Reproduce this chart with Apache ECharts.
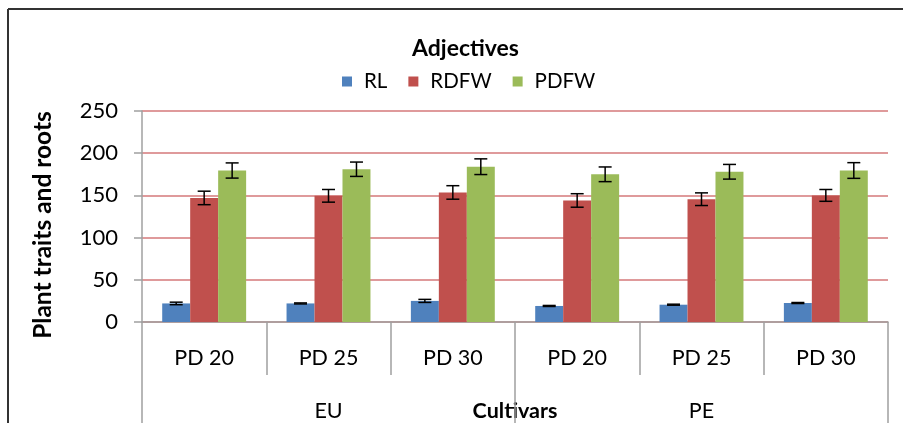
<!DOCTYPE html>
<html>
<head>
<meta charset="utf-8">
<script src="https://cdn.jsdelivr.net/npm/echarts@6/dist/echarts.min.js"></script>
<style>
html,body{margin:0;padding:0;background:#fff;}
#c{width:903px;height:423px;}
</style>
</head>
<body>
<div id="c"></div>
<script>
const categories = ['PD 20', 'PD 25', 'PD 30', 'PD 20', 'PD 25', 'PD 30'];
const groups = ['EU', 'PE'];
const seriesNames = ['RL', 'RDFW', 'PDFW'];
const RL = [22, 22, 25, 19, 20.5, 22.5];
const RL_err = [1.5, 0.6, 1.8, 0.6, 0.6, 0.6];
const RDFW = [147, 149.5, 153.5, 144, 145.5, 150];
const RDFW_err = [8, 7.5, 8, 8, 7.5, 7];
const PDFW = [179.5, 181, 184, 175, 178, 179.5];
const PDFW_err = [9, 8.5, 9.3, 8.7, 8.7, 9.3];
const yTicks = [0, 50, 100, 150, 200, 250];

const colors = ['#4f81bd', '#c0504d', '#9bbb59'];
const values = [RL, RDFW, PDFW];
const errs = [RL_err, RDFW_err, PDFW_err];
const FONT = 'Lato';

const chart = echarts.init(document.getElementById('c'));

const barSeries = seriesNames.map((n, i) => ({
  name: n, type: 'bar', data: values[i],
  barGap: '0%', barCategoryGap: '32.5%',
  itemStyle: { color: colors[i] },
  xAxisIndex: 0, yAxisIndex: 0
}));

const errSeries = seriesNames.map((n, i) => ({
  type: 'custom',
  xAxisIndex: 0, yAxisIndex: 0,
  z: 5,
  silent: true,
  data: values[i].map((v, k) => [k, v, errs[i][k]]),
  renderItem: function (params, api) {
    const k = api.value(0), v = api.value(1), e = api.value(2);
    const w = api.size([1, 0])[0];
    const bw = w * (1 - 0.325) / 3;
    const cx = api.coord([k, v])[0] + (i - 1) * bw;
    const yt = api.coord([k, v + e])[1];
    const yb = api.coord([k, v - e])[1];
    const cap = 6.5;
    const st = { stroke: '#000', lineWidth: 1.5 };
    return {
      type: 'group', children: [
        { type: 'line', shape: { x1: cx, y1: yt, x2: cx, y2: yb }, style: st },
        { type: 'line', shape: { x1: cx - cap, y1: yt, x2: cx + cap, y2: yt }, style: st },
        { type: 'line', shape: { x1: cx - cap, y1: yb, x2: cx + cap, y2: yb }, style: st }
      ]
    };
  }
}));

chart.setOption({
  animation: false,
  textStyle: { fontFamily: FONT },
  title: {
    text: 'Adjectives', left: 407, top: 32,
    textStyle: { fontFamily: FONT, fontWeight: 'bold', fontSize: 23, color: '#000' }
  },
  legend: {
    data: seriesNames, top: 66, left: 337,
    icon: 'rect', itemWidth: 10, itemHeight: 10, itemGap: 21,
    textStyle: { fontFamily: FONT, fontSize: 20.5, color: '#000', padding: [0, 0, 0, 7] }
  },
  grid: { left: 142, right: 15, top: 111, bottom: 101, containLabel: false, outerBoundsMode: 'none' },
  xAxis: [
    {
      type: 'category', data: categories, position: 'bottom',
      axisLine: { lineStyle: { color: '#a0a0a0', width: 1.5 } },
      axisTick: { show: true, length: 53, interval: 0, lineStyle: { color: '#a0a0a0', width: 1.5 } },
      axisLabel: { interval: 0, margin: 25, fontSize: 21.5, color: '#000', fontFamily: FONT },
      splitLine: { show: false }
    },
    {
      type: 'category', data: groups, position: 'bottom', offset: 53,
      axisLine: { show: false },
      axisTick: { show: true, length: 60, interval: 0, lineStyle: { color: '#a0a0a0', width: 1.5 } },
      axisLabel: { interval: 0, margin: 25, fontSize: 21.5, color: '#000', fontFamily: FONT },
      name: 'Cultivars', nameLocation: 'middle', nameGap: 25, nameMoveOverlap: false,
      nameTextStyle: { fontWeight: 'bold', fontSize: 21.5, color: '#000', fontFamily: FONT, verticalAlign: 'top' }
    }
  ],
  yAxis: {
    type: 'value', min: 0, max: 250, interval: 50,
    name: 'Plant traits and roots', nameLocation: 'middle', nameGap: 86, nameRotate: 90, nameMoveOverlap: false,
    nameTextStyle: { fontWeight: 'bold', fontSize: 24.5, color: '#000', fontFamily: FONT, padding: [0, 17, 0, 0] },
    axisLine: { show: true, lineStyle: { color: '#a0a0a0', width: 1.5 } },
    axisTick: { show: true, length: 8, lineStyle: { color: '#a0a0a0', width: 1.5 } },
    axisLabel: { margin: 24, fontSize: 22, color: '#000', fontFamily: FONT,
      formatter: v => (yTicks.indexOf(v) >= 0 ? String(v) : '') },
    splitLine: { show: true, lineStyle: { color: '#d4787a', width: 1.5 } }
  },
  graphic: [
    { type: 'line', shape: { x1: 8, y1: 9, x2: 903, y2: 9 }, style: { stroke: '#333', lineWidth: 2 } },
    { type: 'line', shape: { x1: 8, y1: 9, x2: 8, y2: 423 }, style: { stroke: '#333', lineWidth: 2 } }
  ],
  series: barSeries.concat(errSeries)
});
</script>
</body>
</html>
